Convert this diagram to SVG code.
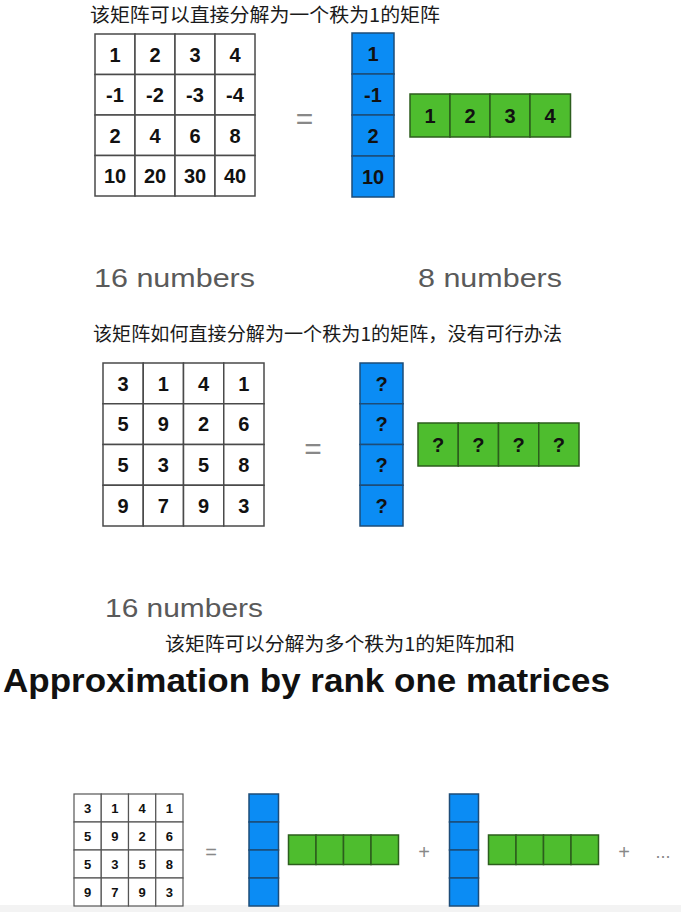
<svg xmlns="http://www.w3.org/2000/svg" width="681" height="912" viewBox="0 0 681 912">
<style>
.cn{font-family:"Noto Sans CJK SC","Noto Sans",sans-serif;font-size:19px;fill:#1a1a1a}
.cnt{font-family:"Liberation Sans",Arial,sans-serif;font-size:26px;fill:#5a5a5a}
.num{font-family:"Liberation Sans",Arial,sans-serif;font-weight:bold;font-size:20px;fill:#111;text-anchor:middle}
.numS{font-family:"Liberation Sans",Arial,sans-serif;font-weight:bold;font-size:13px;fill:#111;text-anchor:middle}
.op{font-family:"Liberation Sans",Arial,sans-serif;fill:#888;text-anchor:middle}
.cell{fill:#fff;stroke:#4a4a4a;stroke-width:1.5}
.cellS{fill:#fff;stroke:#555;stroke-width:1.2}
.blue{fill:#0B8CF4;stroke:#1d4c78;stroke-width:1.5}
.green{fill:#4EBD2E;stroke:#2c5e1d;stroke-width:1.5}
.title{font-family:"Liberation Sans",Arial,sans-serif;font-weight:bold;font-size:33px;fill:#111}
</style>
<rect x="0" y="0" width="681" height="912" fill="#fff"/>
<rect x="0" y="905" width="681" height="7" fill="#f3f3f3"/>

<g id="title1"><text class="cn" x="90" y="21.5" textLength="350" lengthAdjust="spacingAndGlyphs">该矩阵可以直接分解为一个秩为1的矩阵</text></g>

<g id="matrixA">
<rect class="cell" x="95" y="34" width="40" height="40.5"/><rect class="cell" x="135" y="34" width="40" height="40.5"/><rect class="cell" x="175" y="34" width="40" height="40.5"/><rect class="cell" x="215" y="34" width="40" height="40.5"/>
<rect class="cell" x="95" y="74.5" width="40" height="40.5"/><rect class="cell" x="135" y="74.5" width="40" height="40.5"/><rect class="cell" x="175" y="74.5" width="40" height="40.5"/><rect class="cell" x="215" y="74.5" width="40" height="40.5"/>
<rect class="cell" x="95" y="115" width="40" height="40.5"/><rect class="cell" x="135" y="115" width="40" height="40.5"/><rect class="cell" x="175" y="115" width="40" height="40.5"/><rect class="cell" x="215" y="115" width="40" height="40.5"/>
<rect class="cell" x="95" y="155.5" width="40" height="40.5"/><rect class="cell" x="135" y="155.5" width="40" height="40.5"/><rect class="cell" x="175" y="155.5" width="40" height="40.5"/><rect class="cell" x="215" y="155.5" width="40" height="40.5"/>
<text class="num" x="115" y="61.5">1</text><text class="num" x="155" y="61.5">2</text><text class="num" x="195" y="61.5">3</text><text class="num" x="235" y="61.5">4</text>
<text class="num" x="115" y="102">-1</text><text class="num" x="155" y="102">-2</text><text class="num" x="195" y="102">-3</text><text class="num" x="235" y="102">-4</text>
<text class="num" x="115" y="142.5">2</text><text class="num" x="155" y="142.5">4</text><text class="num" x="195" y="142.5">6</text><text class="num" x="235" y="142.5">8</text>
<text class="num" x="115" y="183">10</text><text class="num" x="155" y="183">20</text><text class="num" x="195" y="183">30</text><text class="num" x="235" y="183">40</text>
</g>
<g id="eqA"><text class="op" x="304.5" y="129" font-size="30">=</text></g>
<g id="colA">
<rect class="blue" x="352" y="33" width="42" height="41"/><rect class="blue" x="352" y="74" width="42" height="41"/><rect class="blue" x="352" y="115" width="42" height="41"/><rect class="blue" x="352" y="156" width="42" height="41"/>
<text class="num" x="373" y="60.5">1</text><text class="num" x="373" y="101.5">-1</text><text class="num" x="373" y="142.5">2</text><text class="num" x="373" y="183.5">10</text>
</g>
<g id="rowA">
<rect class="green" x="410" y="94" width="40" height="43"/><rect class="green" x="450" y="94" width="40" height="43"/><rect class="green" x="490" y="94" width="40" height="43"/><rect class="green" x="530" y="94" width="40.5" height="43"/>
<text class="num" x="430" y="122.5">1</text><text class="num" x="470" y="122.5">2</text><text class="num" x="510" y="122.5">3</text><text class="num" x="550" y="122.5">4</text>
</g>
<g id="countA1"><text class="cnt" x="94" y="287" textLength="161" lengthAdjust="spacingAndGlyphs">16 numbers</text></g>
<g id="countA2"><text class="cnt" x="418" y="287" textLength="144" lengthAdjust="spacingAndGlyphs">8 numbers</text></g>

<g id="title2"><text class="cn" x="93" y="341" textLength="469" lengthAdjust="spacingAndGlyphs">该矩阵如何直接分解为一个秩为1的矩阵，没有可行办法</text></g>

<g id="matrixB">
<rect class="cell" x="103" y="363" width="40.25" height="40.75"/><rect class="cell" x="143.25" y="363" width="40.25" height="40.75"/><rect class="cell" x="183.5" y="363" width="40.25" height="40.75"/><rect class="cell" x="223.75" y="363" width="40.25" height="40.75"/>
<rect class="cell" x="103" y="403.75" width="40.25" height="40.75"/><rect class="cell" x="143.25" y="403.75" width="40.25" height="40.75"/><rect class="cell" x="183.5" y="403.75" width="40.25" height="40.75"/><rect class="cell" x="223.75" y="403.75" width="40.25" height="40.75"/>
<rect class="cell" x="103" y="444.5" width="40.25" height="40.75"/><rect class="cell" x="143.25" y="444.5" width="40.25" height="40.75"/><rect class="cell" x="183.5" y="444.5" width="40.25" height="40.75"/><rect class="cell" x="223.75" y="444.5" width="40.25" height="40.75"/>
<rect class="cell" x="103" y="485.25" width="40.25" height="40.75"/><rect class="cell" x="143.25" y="485.25" width="40.25" height="40.75"/><rect class="cell" x="183.5" y="485.25" width="40.25" height="40.75"/><rect class="cell" x="223.75" y="485.25" width="40.25" height="40.75"/>
<text class="num" x="123.1" y="390.5">3</text><text class="num" x="163.4" y="390.5">1</text><text class="num" x="203.6" y="390.5">4</text><text class="num" x="243.9" y="390.5">1</text>
<text class="num" x="123.1" y="431.2">5</text><text class="num" x="163.4" y="431.2">9</text><text class="num" x="203.6" y="431.2">2</text><text class="num" x="243.9" y="431.2">6</text>
<text class="num" x="123.1" y="472">5</text><text class="num" x="163.4" y="472">3</text><text class="num" x="203.6" y="472">5</text><text class="num" x="243.9" y="472">8</text>
<text class="num" x="123.1" y="512.7">9</text><text class="num" x="163.4" y="512.7">7</text><text class="num" x="203.6" y="512.7">9</text><text class="num" x="243.9" y="512.7">3</text>
</g>
<g id="eqB"><text class="op" x="313" y="459" font-size="30">=</text></g>
<g id="colB">
<rect class="blue" x="360" y="363" width="43" height="40.75"/><rect class="blue" x="360" y="403.75" width="43" height="40.75"/><rect class="blue" x="360" y="444.5" width="43" height="40.75"/><rect class="blue" x="360" y="485.25" width="43" height="40.75"/>
<text class="num" x="381.5" y="390.5">?</text><text class="num" x="381.5" y="431.2">?</text><text class="num" x="381.5" y="472">?</text><text class="num" x="381.5" y="512.7">?</text>
</g>
<g id="rowB">
<rect class="green" x="418" y="423" width="40.25" height="43"/><rect class="green" x="458.25" y="423" width="40.25" height="43"/><rect class="green" x="498.5" y="423" width="40.25" height="43"/><rect class="green" x="538.75" y="423" width="40.25" height="43"/>
<text class="num" x="438.1" y="451.5">?</text><text class="num" x="478.4" y="451.5">?</text><text class="num" x="518.6" y="451.5">?</text><text class="num" x="558.9" y="451.5">?</text>
</g>
<g id="countB"><text class="cnt" x="105" y="617" textLength="158" lengthAdjust="spacingAndGlyphs">16 numbers</text></g>

<g id="title3"><text class="cn" x="165" y="651" textLength="350" lengthAdjust="spacingAndGlyphs">该矩阵可以分解为多个秩为1的矩阵加和</text></g>
<g id="heading"><text class="title" x="3" y="692" textLength="607" lengthAdjust="spacingAndGlyphs">Approximation by rank one matrices</text></g>

<g id="matrixC">
<rect class="cellS" x="74" y="794" width="27.25" height="28"/><rect class="cellS" x="101.25" y="794" width="27.25" height="28"/><rect class="cellS" x="128.5" y="794" width="27.25" height="28"/><rect class="cellS" x="155.75" y="794" width="27.25" height="28"/>
<rect class="cellS" x="74" y="822" width="27.25" height="28"/><rect class="cellS" x="101.25" y="822" width="27.25" height="28"/><rect class="cellS" x="128.5" y="822" width="27.25" height="28"/><rect class="cellS" x="155.75" y="822" width="27.25" height="28"/>
<rect class="cellS" x="74" y="850" width="27.25" height="28"/><rect class="cellS" x="101.25" y="850" width="27.25" height="28"/><rect class="cellS" x="128.5" y="850" width="27.25" height="28"/><rect class="cellS" x="155.75" y="850" width="27.25" height="28"/>
<rect class="cellS" x="74" y="878" width="27.25" height="28"/><rect class="cellS" x="101.25" y="878" width="27.25" height="28"/><rect class="cellS" x="128.5" y="878" width="27.25" height="28"/><rect class="cellS" x="155.75" y="878" width="27.25" height="28"/>
<text class="numS" x="87.6" y="812.7">3</text><text class="numS" x="114.9" y="812.7">1</text><text class="numS" x="142.1" y="812.7">4</text><text class="numS" x="169.4" y="812.7">1</text>
<text class="numS" x="87.6" y="840.7">5</text><text class="numS" x="114.9" y="840.7">9</text><text class="numS" x="142.1" y="840.7">2</text><text class="numS" x="169.4" y="840.7">6</text>
<text class="numS" x="87.6" y="868.7">5</text><text class="numS" x="114.9" y="868.7">3</text><text class="numS" x="142.1" y="868.7">5</text><text class="numS" x="169.4" y="868.7">8</text>
<text class="numS" x="87.6" y="896.7">9</text><text class="numS" x="114.9" y="896.7">7</text><text class="numS" x="142.1" y="896.7">9</text><text class="numS" x="169.4" y="896.7">3</text>
</g>
<g id="eqC"><text class="op" x="211" y="859" font-size="20">=</text></g>
<g id="colC1">
<rect class="blue" x="249" y="794" width="29.5" height="28"/><rect class="blue" x="249" y="822" width="29.5" height="28"/><rect class="blue" x="249" y="850" width="29.5" height="28"/><rect class="blue" x="249" y="878" width="29.5" height="28"/>
</g>
<g id="rowC1">
<rect class="green" x="288.5" y="835" width="27.5" height="29.5"/><rect class="green" x="316" y="835" width="27.5" height="29.5"/><rect class="green" x="343.5" y="835" width="27.5" height="29.5"/><rect class="green" x="371" y="835" width="27.5" height="29.5"/>
</g>
<g id="plus1"><text class="op" x="424" y="858.5" font-size="20">+</text></g>
<g id="colC2">
<rect class="blue" x="449.5" y="794" width="29" height="28"/><rect class="blue" x="449.5" y="822" width="29" height="28"/><rect class="blue" x="449.5" y="850" width="29" height="28"/><rect class="blue" x="449.5" y="878" width="29" height="28"/>
</g>
<g id="rowC2">
<rect class="green" x="488.5" y="835" width="27.5" height="29.5"/><rect class="green" x="516" y="835" width="27.5" height="29.5"/><rect class="green" x="543.5" y="835" width="27.5" height="29.5"/><rect class="green" x="571" y="835" width="27.5" height="29.5"/>
</g>
<g id="plus2"><text class="op" x="624" y="858.5" font-size="20">+</text></g>
<g id="ellipsis"><text class="op" x="663" y="858" font-size="18">...</text></g>
<g id="connectors"/>
</svg>
